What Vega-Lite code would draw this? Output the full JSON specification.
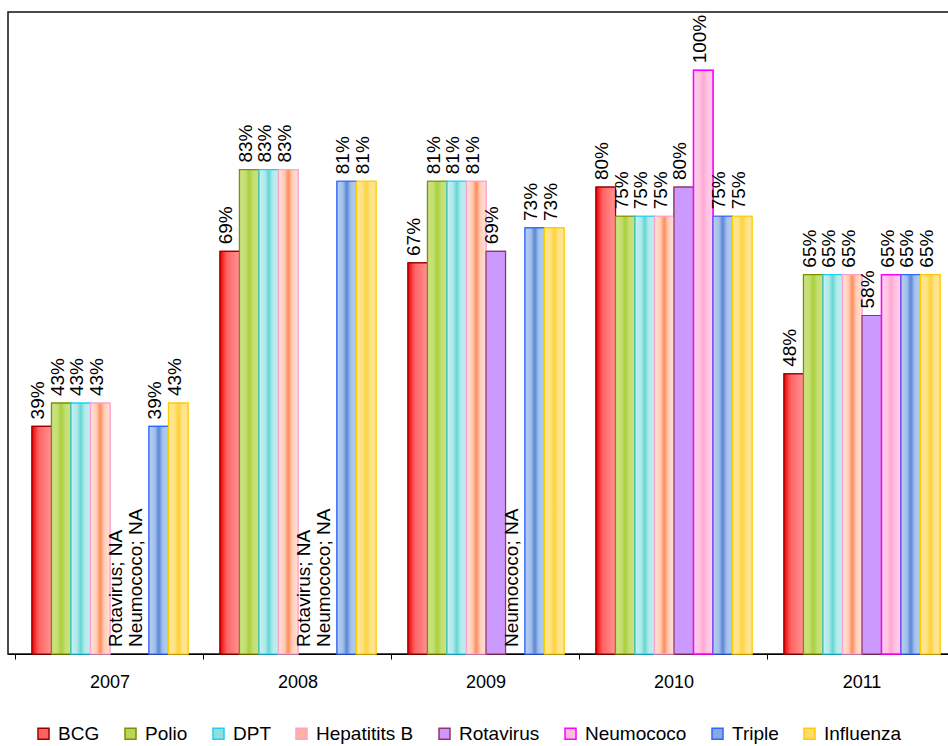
{
  "$schema": "https://vega.github.io/schema/vega-lite/v6.json",
  "width": 942,
  "height": 642,
  "autosize": {"type": "none"},
  "padding": {"left": 8, "top": 12, "right": -2, "bottom": 92},
  "background": "white",
  "config": {
    "view": {"stroke": "#111111", "strokeWidth": 1.5},
    "font": "Liberation Sans"
  },
  "data": {
    "values": [
      {"year": "2007", "vaccine": "BCG", "value": 0.39, "label": "39%"},
      {"year": "2007", "vaccine": "Polio", "value": 0.43, "label": "43%"},
      {"year": "2007", "vaccine": "DPT", "value": 0.43, "label": "43%"},
      {"year": "2007", "vaccine": "Hepatitits B", "value": 0.43, "label": "43%"},
      {"year": "2007", "vaccine": "Rotavirus", "value": null, "label": "Rotavirus; NA"},
      {"year": "2007", "vaccine": "Neumococo", "value": null, "label": "Neumococo; NA"},
      {"year": "2007", "vaccine": "Triple", "value": 0.39, "label": "39%"},
      {"year": "2007", "vaccine": "Influenza", "value": 0.43, "label": "43%"},
      {"year": "2008", "vaccine": "BCG", "value": 0.69, "label": "69%"},
      {"year": "2008", "vaccine": "Polio", "value": 0.83, "label": "83%"},
      {"year": "2008", "vaccine": "DPT", "value": 0.83, "label": "83%"},
      {"year": "2008", "vaccine": "Hepatitits B", "value": 0.83, "label": "83%"},
      {"year": "2008", "vaccine": "Rotavirus", "value": null, "label": "Rotavirus; NA"},
      {"year": "2008", "vaccine": "Neumococo", "value": null, "label": "Neumococo; NA"},
      {"year": "2008", "vaccine": "Triple", "value": 0.81, "label": "81%"},
      {"year": "2008", "vaccine": "Influenza", "value": 0.81, "label": "81%"},
      {"year": "2009", "vaccine": "BCG", "value": 0.67, "label": "67%"},
      {"year": "2009", "vaccine": "Polio", "value": 0.81, "label": "81%"},
      {"year": "2009", "vaccine": "DPT", "value": 0.81, "label": "81%"},
      {"year": "2009", "vaccine": "Hepatitits B", "value": 0.81, "label": "81%"},
      {"year": "2009", "vaccine": "Rotavirus", "value": 0.69, "label": "69%"},
      {"year": "2009", "vaccine": "Neumococo", "value": null, "label": "Neumococo; NA"},
      {"year": "2009", "vaccine": "Triple", "value": 0.73, "label": "73%"},
      {"year": "2009", "vaccine": "Influenza", "value": 0.73, "label": "73%"},
      {"year": "2010", "vaccine": "BCG", "value": 0.80, "label": "80%"},
      {"year": "2010", "vaccine": "Polio", "value": 0.75, "label": "75%"},
      {"year": "2010", "vaccine": "DPT", "value": 0.75, "label": "75%"},
      {"year": "2010", "vaccine": "Hepatitits B", "value": 0.75, "label": "75%"},
      {"year": "2010", "vaccine": "Rotavirus", "value": 0.80, "label": "80%"},
      {"year": "2010", "vaccine": "Neumococo", "value": 1.00, "label": "100%"},
      {"year": "2010", "vaccine": "Triple", "value": 0.75, "label": "75%"},
      {"year": "2010", "vaccine": "Influenza", "value": 0.75, "label": "75%"},
      {"year": "2011", "vaccine": "BCG", "value": 0.48, "label": "48%"},
      {"year": "2011", "vaccine": "Polio", "value": 0.65, "label": "65%"},
      {"year": "2011", "vaccine": "DPT", "value": 0.65, "label": "65%"},
      {"year": "2011", "vaccine": "Hepatitits B", "value": 0.65, "label": "65%"},
      {"year": "2011", "vaccine": "Rotavirus", "value": 0.58, "label": "58%"},
      {"year": "2011", "vaccine": "Neumococo", "value": 0.65, "label": "65%"},
      {"year": "2011", "vaccine": "Triple", "value": 0.65, "label": "65%"},
      {"year": "2011", "vaccine": "Influenza", "value": 0.65, "label": "65%"}
    ]
  },
  "encoding": {
    "x": {
      "field": "year",
      "type": "nominal",
      "scale": {"paddingInner": 0.1702, "paddingOuter": 0.0904, "align": 0.706},
      "axis": {
        "title": null,
        "labelAngle": 0,
        "labelFontSize": 18,
        "labelFont": "Liberation Sans",
        "labelColor": "#000000",
        "labelPadding": 14,
        "bandPosition": -0.1026,
        "tickSize": 5,
        "tickColor": "#000000",
        "domainColor": "#000000",
        "domainWidth": 1,
        "grid": false
      }
    },
    "xOffset": {
      "field": "vaccine",
      "type": "nominal",
      "scale": {
        "domain": ["BCG", "Polio", "DPT", "Hepatitits B", "Rotavirus", "Neumococo", "Triple", "Influenza"],
        "paddingInner": 0,
        "paddingOuter": 0
      }
    },
    "y": {
      "field": "value",
      "type": "quantitative",
      "scale": {"domain": [0, 1.1], "nice": false, "zero": true},
      "axis": null
    }
  },
  "layer": [
    {
      "mark": {"type": "bar", "strokeWidth": 1.2},
      "encoding": {
        "fill": {
          "field": "vaccine",
          "type": "nominal",
          "scale": {
            "domain": ["BCG", "Polio", "DPT", "Hepatitits B", "Rotavirus", "Neumococo", "Triple", "Influenza"],
            "range": ["#FF6060", "#B8D65A", "#8EE0DE", "#FFB49A", "#CC99FF", "#FFBCDE", "#86A9E2", "#FFDC6A"]
          },
          "legend": {
            "title": null,
            "orient": "none",
            "legendX": 26,
            "legendY": 712,
            "direction": "horizontal",
            "columns": 8,
            "columnPadding": 21,
            "labelOffset": 5,
            "labelFontSize": 19,
            "labelFont": "Liberation Sans",
            "labelColor": "#000000",
            "symbolType": "square",
            "symbolSize": 121,
            "symbolStrokeWidth": 1.5,
            "symbolOpacity": 1
          }
        },
        "stroke": {
          "field": "vaccine",
          "type": "nominal",
          "scale": {
            "domain": ["BCG", "Polio", "DPT", "Hepatitits B", "Rotavirus", "Neumococo", "Triple", "Influenza"],
            "range": ["#9B0000", "#7F8F00", "#1ECFF5", "#FF9FCF", "#993366", "#FF00FF", "#3366FF", "#FFCC00"]
          },
          "legend": {
            "title": null,
            "orient": "none",
            "legendX": 26,
            "legendY": 712,
            "direction": "horizontal",
            "columns": 8,
            "columnPadding": 21,
            "labelOffset": 5,
            "labelFontSize": 19,
            "labelFont": "Liberation Sans",
            "labelColor": "#000000",
            "symbolType": "square",
            "symbolSize": 121,
            "symbolStrokeWidth": 1.5,
            "symbolOpacity": 1
          }
        }
      }
    },
    {
      "transform": [{"filter": "datum.vaccine === 'BCG'"}],
      "mark": {"type": "bar", "stroke": "#9B0000", "strokeWidth": 1.2,
        "fill": {"gradient": "linear", "x1": 0, "y1": 0, "x2": 1, "y2": 0,
          "stops": [{"offset": 0, "color": "#F00000"}, {"offset": 0.35, "color": "#FF6464"}, {"offset": 1, "color": "#FF9494"}]}}
    },
    {
      "transform": [{"filter": "datum.vaccine === 'Polio'"}],
      "mark": {"type": "bar", "stroke": "#7F8F00", "strokeWidth": 1.2,
        "fill": {"gradient": "linear", "x1": 0, "y1": 0, "x2": 1, "y2": 0,
          "stops": [{"offset": 0, "color": "#CDE383"}, {"offset": 0.3, "color": "#C4DE72"}, {"offset": 0.5, "color": "#A8D03A"}, {"offset": 0.7, "color": "#C4DE72"}, {"offset": 1, "color": "#CDE383"}]}}
    },
    {
      "transform": [{"filter": "datum.vaccine === 'DPT'"}],
      "mark": {"type": "bar", "stroke": "#1ECFF5", "strokeWidth": 1.2,
        "fill": {"gradient": "linear", "x1": 0, "y1": 0, "x2": 1, "y2": 0,
          "stops": [{"offset": 0, "color": "#C4F0F0"}, {"offset": 0.3, "color": "#B0EAEA"}, {"offset": 0.5, "color": "#66D6D3"}, {"offset": 0.7, "color": "#B0EAEA"}, {"offset": 1, "color": "#C4F0F0"}]}}
    },
    {
      "transform": [{"filter": "datum.vaccine === 'Hepatitits B'"}],
      "mark": {"type": "bar", "stroke": "#FF9FCF", "strokeWidth": 1.2,
        "fill": {"gradient": "linear", "x1": 0, "y1": 0, "x2": 1, "y2": 0,
          "stops": [{"offset": 0, "color": "#FFE3D8"}, {"offset": 0.3, "color": "#FFCDB8"}, {"offset": 0.5, "color": "#FF8C5C"}, {"offset": 0.7, "color": "#FFCDB8"}, {"offset": 1, "color": "#FFE3D8"}]}}
    },
    {
      "transform": [{"filter": "datum.vaccine === 'Rotavirus'"}],
      "mark": {"type": "bar", "stroke": "#993366", "strokeWidth": 1.2, "fill": "#CC99FF"}
    },
    {
      "transform": [{"filter": "datum.vaccine === 'Neumococo'"}],
      "mark": {"type": "bar", "stroke": "#FF00FF", "strokeWidth": 1.5,
        "fill": {"gradient": "linear", "x1": 0, "y1": 0, "x2": 1, "y2": 0,
          "stops": [{"offset": 0, "color": "#FFD0EA"}, {"offset": 0.3, "color": "#FFC4E3"}, {"offset": 0.5, "color": "#FFA8D4"}, {"offset": 0.7, "color": "#FFC4E3"}, {"offset": 1, "color": "#FFD0EA"}]}}
    },
    {
      "transform": [{"filter": "datum.vaccine === 'Triple'"}],
      "mark": {"type": "bar", "stroke": "#3366FF", "strokeWidth": 1.2,
        "fill": {"gradient": "linear", "x1": 0, "y1": 0, "x2": 1, "y2": 0,
          "stops": [{"offset": 0, "color": "#B8D0EE"}, {"offset": 0.3, "color": "#A2C0EA"}, {"offset": 0.5, "color": "#5A86D6"}, {"offset": 0.7, "color": "#A2C0EA"}, {"offset": 1, "color": "#B8D0EE"}]}}
    },
    {
      "transform": [{"filter": "datum.vaccine === 'Influenza'"}],
      "mark": {"type": "bar", "stroke": "#FFCC00", "strokeWidth": 1.2,
        "fill": {"gradient": "linear", "x1": 0, "y1": 0, "x2": 1, "y2": 0,
          "stops": [{"offset": 0, "color": "#FFE799"}, {"offset": 0.3, "color": "#FFE284"}, {"offset": 0.5, "color": "#FFD23C"}, {"offset": 0.7, "color": "#FFE284"}, {"offset": 1, "color": "#FFE799"}]}}
    },
    {
      "mark": {"type": "text", "angle": 270, "align": "left", "baseline": "middle", "dx": 7, "dy": -3.5,
        "fontSize": 19, "font": "Liberation Sans", "color": "#000000", "invalid": "show"},
      "encoding": {"text": {"field": "label", "type": "nominal"}}
    }
  ]
}
